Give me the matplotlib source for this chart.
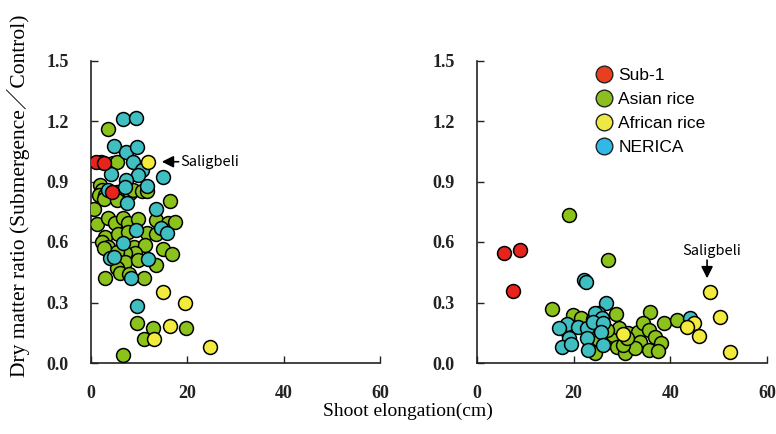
import matplotlib
matplotlib.use("Agg")
import matplotlib.pyplot as plt
from matplotlib.lines import Line2D

# ---------------- data (shoot elongation cm, dry matter ratio) ----------------
# Left panel
L_sub1_x = [1.0, 2.8, 4.4]
L_sub1_y = [0.995, 0.993, 0.846]

L_asian_x = [3.5, 2.1, 4.6, 5.3, 1.9, 2.3, 1.7, 2.9, 2.6, 5.5, 5.5, 8.1, 8.8, 10.5, 11.6,
             0.7, 16.4, 1.3, 3.5, 5.0, 6.7, 7.7, 9.8, 13.5, 16.0, 17.4, 2.9, 5.7, 7.7,
             11.6, 13.4, 2.2, 3.6, 9.0, 11.2, 15.0, 16.9, 9.1, 7.1, 5.3, 7.1, 9.8, 13.5,
             5.5, 6.0, 3.0, 10.9, 2.6, 7.9, 9.5, 12.8, 11.1, 19.7, 6.7]
L_asian_y = [1.16, 0.998, 0.99, 0.995, 0.883, 0.858, 0.833, 0.833, 0.813, 0.849, 0.808,
             0.841, 0.858, 0.854, 0.853, 0.763, 0.805, 0.689, 0.717, 0.693, 0.717, 0.693,
             0.714, 0.709, 0.693, 0.698, 0.626, 0.640, 0.651, 0.646, 0.640, 0.601, 0.577,
             0.577, 0.585, 0.565, 0.539, 0.544, 0.544, 0.552, 0.502, 0.511, 0.486, 0.470,
             0.445, 0.423, 0.420, 0.569, 0.440, 0.200, 0.172, 0.119, 0.172, 0.040]

L_african_x = [11.9, 15.0, 19.5, 16.4, 13.1, 24.7]
L_african_y = [0.998, 0.351, 0.299, 0.183, 0.119, 0.078]

L_nerica_x = [6.6, 9.3, 4.8, 7.2, 9.5, 8.7, 10.5, 9.8, 4.1, 14.9, 7.2, 7.1, 11.6, 3.6, 7.4,
              13.5, 9.3, 14.5, 15.7, 6.7, 3.9, 4.8, 11.9, 8.4, 9.5]
L_nerica_y = [1.21, 1.216, 1.074, 1.048, 1.072, 0.995, 0.957, 0.932, 0.936, 0.924, 0.907,
              0.874, 0.879, 0.856, 0.792, 0.762, 0.659, 0.671, 0.643, 0.593, 0.522, 0.527,
              0.516, 0.420, 0.284]

# Right panel
R_sub1_x = [5.6, 8.9, 7.4]
R_sub1_y = [0.547, 0.560, 0.358]

R_asian_x = [19.1, 27.2, 15.5, 28.8, 35.7, 38.7, 41.3, 19.9, 21.5, 18.9, 23.4, 24.4, 27.2,
             28.2, 29.3, 28.9, 30.6, 31.7, 31.3, 33.3, 34.4, 35.5, 33.7, 35.5, 36.9, 38.0,
             32.7, 30.2, 26.9, 25.0, 31.0, 37.5]
R_asian_y = [0.734, 0.511, 0.266, 0.243, 0.251, 0.200, 0.213, 0.238, 0.225, 0.147, 0.089,
             0.051, 0.106, 0.139, 0.172, 0.081, 0.048, 0.106, 0.147, 0.155, 0.197, 0.164,
             0.106, 0.064, 0.130, 0.101, 0.073, 0.089, 0.164, 0.120, 0.125, 0.060]

R_african_x = [48.2, 50.2, 44.9, 43.4, 46.0, 30.2, 52.3]
R_african_y = [0.354, 0.230, 0.197, 0.177, 0.135, 0.144, 0.055]

R_nerica_x = [22.2, 22.5, 26.6, 44.1, 24.1, 25.1, 24.4, 25.8, 18.6, 17.0, 20.8, 22.7, 24.1,
              26.1, 25.7, 19.1, 22.7, 17.5, 19.4, 23.0, 26.0]
R_nerica_y = [0.412, 0.403, 0.299, 0.225, 0.217, 0.249, 0.246, 0.222, 0.193, 0.172, 0.180,
              0.172, 0.205, 0.197, 0.155, 0.122, 0.122, 0.081, 0.094, 0.064, 0.089]

x_ticks = [0, 20, 40, 60]
y_ticks = [0.0, 0.3, 0.6, 0.9, 1.2, 1.5]
y_tick_labels = ["0.0", "0.3", "0.6", "0.9", "1.2", "1.5"]
legend_labels = ["Sub-1", "Asian rice", "African rice", "NERICA"]

# ---------------- styling ----------------
C_RED = "#e8231c"
C_GREEN = "#8cc21c"
C_YELLOW = "#f2ea3c"
C_TEAL = "#3fbfc2"
LEG_COLORS = ["#e8401e", "#8cbe22", "#eee845", "#30b8e6"]

SERIF = ["Liberation Serif", "DejaVu Serif"]
SERIF_CJK = ["Liberation Serif", "Noto Sans CJK JP"]
SANS = ["Liberation Sans", "DejaVu Sans"]
GOTHIC = ["Noto Sans CJK JP", "DejaVu Sans"]

fig = plt.figure(figsize=(7.76, 4.34), dpi=100)
W, H = 776, 434
ax_l = fig.add_axes([91 / W, (434 - 363) / H, 289 / W, 302.5 / H])
ax_r = fig.add_axes([477 / W, (434 - 363) / H, 290 / W, 302.5 / H])

MS = 100
EW = 1.1


def draw(ax, sx, sy, ax_, ay, fx, fy, nx, ny):
    ax.scatter(ax_, ay, s=MS, c=C_GREEN, edgecolors="black", linewidths=EW, zorder=3)
    ax.scatter(nx, ny, s=MS, c=C_TEAL, edgecolors="black", linewidths=EW, zorder=3)
    ax.scatter(fx, fy, s=MS, c=C_YELLOW, edgecolors="black", linewidths=EW, zorder=4)
    ax.scatter(sx, sy, s=MS, c=C_RED, edgecolors="black", linewidths=EW, zorder=5)


draw(ax_l, L_sub1_x, L_sub1_y, L_asian_x, L_asian_y, L_african_x, L_african_y,
     L_nerica_x, L_nerica_y)
draw(ax_r, R_sub1_x, R_sub1_y, R_asian_x, R_asian_y, R_african_x, R_african_y,
     R_nerica_x, R_nerica_y)

for ax in (ax_l, ax_r):
    ax.set_xlim(0, 60)
    ax.set_ylim(0, 1.5)
    ax.set_xticks(x_ticks)
    ax.set_xticklabels([str(t) for t in x_ticks], fontfamily=SERIF, fontweight="bold",
                       fontsize=13)
    ax.set_yticks(y_ticks)
    ax.set_yticklabels(y_tick_labels, fontfamily=SERIF, fontweight="bold", fontsize=13)
    ax.tick_params(direction="in", length=5, width=1, pad=16, colors="#222222")
    for side in ("top", "right"):
        ax.spines[side].set_visible(False)
    for side in ("left", "bottom"):
        ax.spines[side].set_linewidth(1.2)
        ax.spines[side].set_color("#222222")
    ax.patch.set_alpha(0)

# annotations
ax_l.annotate("", xy=(14.7, 0.998), xytext=(18.2, 0.998),
              arrowprops=dict(arrowstyle="-|>,head_length=0.7,head_width=0.35",
                              color="black", lw=1.2, shrinkA=0, shrinkB=0))
ax_l.text(18.6, 0.998, "Saligbeli", fontfamily=GOTHIC, fontsize=10.5, va="center",
          ha="left")
ax_r.annotate("", xy=(47.6, 0.42), xytext=(47.6, 0.51),
              arrowprops=dict(arrowstyle="-|>,head_length=0.7,head_width=0.35",
                              color="black", lw=1.2, shrinkA=0, shrinkB=0))
ax_r.text(48.6, 0.555, "Saligbeli", fontfamily=GOTHIC, fontsize=10.5, va="center",
          ha="center")

# legend
handles = [Line2D([], [], marker="o", linestyle="none", markersize=12,
                  markerfacecolor=c, markeredgecolor="#222222", markeredgewidth=1)
           for c in LEG_COLORS]
fig.legend(handles, legend_labels, loc="upper left",
           bbox_to_anchor=(594 / W, 1 - 68 / H), frameon=False,
           prop=dict(family=SANS, size=12.5), handletextpad=0.2, labelspacing=0.5,
           borderpad=0, borderaxespad=0, handlelength=1.2)

# axis labels
fig.text(18 / W, 1 - 196 / H, "Dry matter ratio (Submergence／Control)", rotation=90,
         ha="center", va="center", fontfamily=SERIF_CJK, fontsize=15.5)
fig.text(408 / W, 1 - 411 / H, "Shoot elongation(cm)", ha="center", va="center",
         fontfamily=SERIF, fontsize=14)

fig.savefig("out.png", dpi=100)
